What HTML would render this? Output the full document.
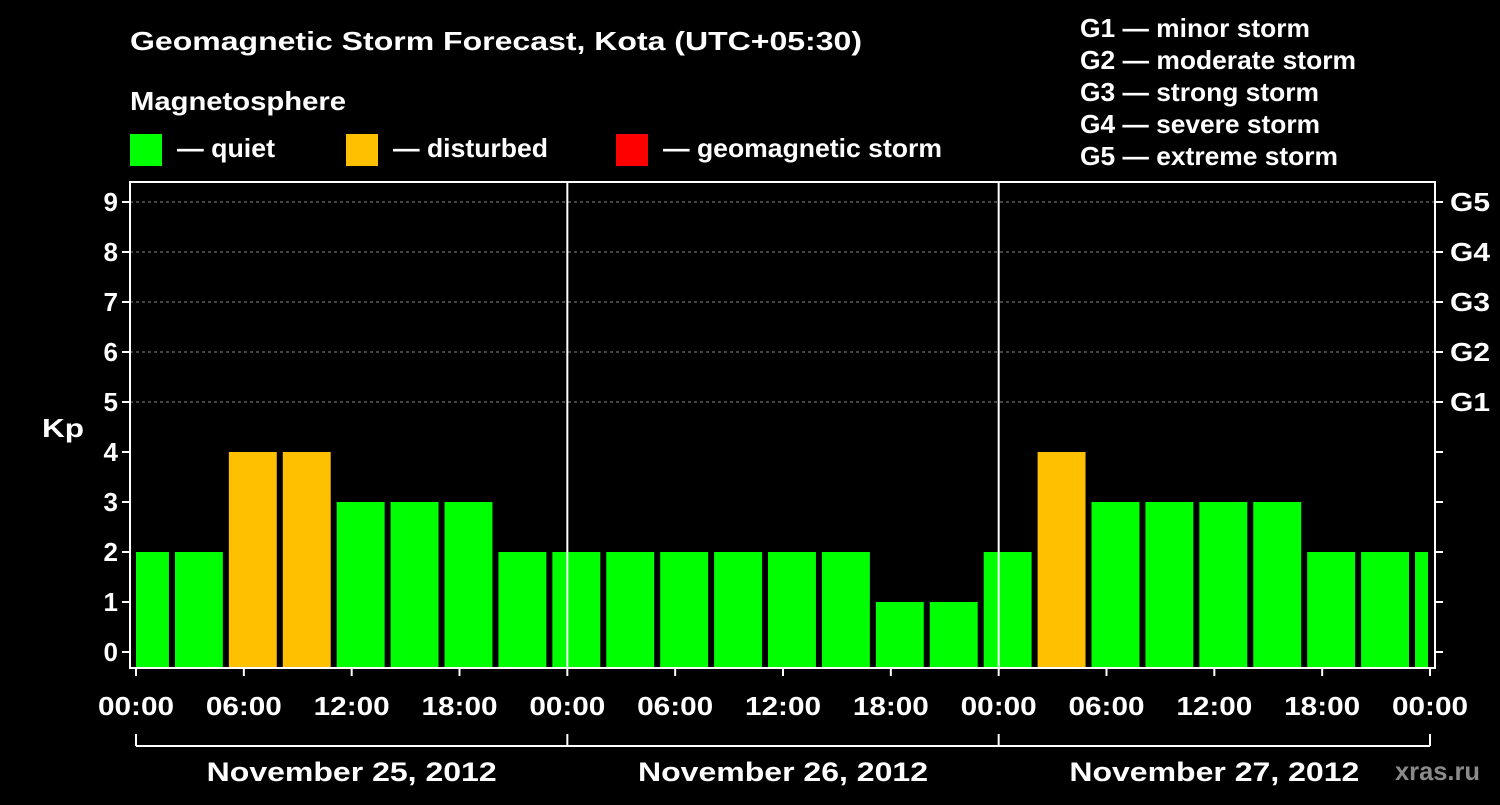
<!DOCTYPE html>
<html><head><meta charset="utf-8"><style>
body{margin:0;background:#000;}
svg text{font-family:"Liberation Sans",sans-serif;font-weight:bold;fill:#fff;}
</style></head><body>
<svg id="chart" width="1500" height="800" xmlns="http://www.w3.org/2000/svg">
<rect width="1500" height="800" fill="#000"/>
<text x="130" y="50" font-size="26" textLength="732" lengthAdjust="spacingAndGlyphs">Geomagnetic Storm Forecast, Kota (UTC+05:30)</text>
<text x="130" y="110" font-size="26" textLength="216" lengthAdjust="spacingAndGlyphs">Magnetosphere</text>
<g><rect x="130" y="134" width="32" height="32" fill="#00ff00"/><text x="177" y="157" font-size="26" textLength="98" lengthAdjust="spacingAndGlyphs">— quiet</text></g>
<g><rect x="346" y="134" width="32" height="32" fill="#ffc000"/><text x="393" y="157" font-size="26" textLength="155" lengthAdjust="spacingAndGlyphs">— disturbed</text></g>
<g><rect x="616" y="134" width="32" height="32" fill="#ff0000"/><text x="663" y="157" font-size="26" textLength="279" lengthAdjust="spacingAndGlyphs">— geomagnetic storm</text></g>
<g font-size="26">
<text x="1080" y="37" textLength="230" lengthAdjust="spacingAndGlyphs">G1 — minor storm</text>
<text x="1080" y="69" textLength="276" lengthAdjust="spacingAndGlyphs">G2 — moderate storm</text>
<text x="1080" y="101" textLength="239" lengthAdjust="spacingAndGlyphs">G3 — strong storm</text>
<text x="1080" y="133" textLength="240" lengthAdjust="spacingAndGlyphs">G4 — severe storm</text>
<text x="1080" y="165" textLength="258" lengthAdjust="spacingAndGlyphs">G5 — extreme storm</text>
</g>
<text x="42" y="437" font-size="26" textLength="42" lengthAdjust="spacingAndGlyphs">Kp</text>
<text x="1395" y="780" font-size="26" style="fill:#8a8a8a" textLength="85" lengthAdjust="spacingAndGlyphs">xras.ru</text>
<g id="grid"></g>
<g id="bars"></g>
<g id="axes"></g>
</svg>
<script>
const kpValues=[2,2,4,4,3,3,3,2,2,2,2,2,2,2,1,1,2,4,3,3,3,3,2,2,2];
const yTicks=[0,1,2,3,4,5,6,7,8,9];
const gLabels=['G1','G2','G3','G4','G5'];
const xTickLabels=['00:00','06:00','12:00','18:00','00:00','06:00','12:00','18:00','00:00','06:00','12:00','18:00','00:00'];
const dayLabels=['November 25, 2012','November 26, 2012','November 27, 2012'];
const NS='http://www.w3.org/2000/svg';
const x0=136,hourPx=(1430-136)/72,pLeft=130,pRight=1435,pTop=182,pBottom=668;
const xs=h=>x0+h*hourPx;
const ys=v=>652-50*v;
function mk(tag,attrs,parent,txt){const e=document.createElementNS(NS,tag);for(const k in attrs)e.setAttribute(k,attrs[k]);if(txt!==undefined)e.textContent=txt;parent.appendChild(e);return e;}
const grid=document.getElementById('grid'),bars=document.getElementById('bars'),axes=document.getElementById('axes');
yTicks.filter(v=>v>=5).forEach(v=>{const l=mk('line',{x1:pLeft,x2:pRight,y1:ys(v),y2:ys(v),stroke:'#888','stroke-dasharray':'3,3','stroke-width':1},grid);

});
kpValues.forEach((v,i)=>{let s=-1+3*i,e=s+3;let xa=xs(s)+3,xb=xs(e)-3;xa=Math.max(xa,x0);xb=Math.min(xb,1428);
const col=v>=5?'#ff0000':(v>=4?'#ffc000':'#00ff00');
const r=mk('rect',{x:xa,y:ys(v),width:xb-xa,height:pBottom-ys(v),fill:col},bars);

});
[24,48].forEach(h=>{const l=mk('line',{x1:xs(h),x2:xs(h),y1:pTop,y2:pBottom,stroke:'#fff','stroke-width':2},axes);

});
const f=mk('rect',{x:pLeft,y:pTop,width:pRight-pLeft,height:pBottom-pTop,fill:'none',stroke:'#fff','stroke-width':2},axes);


yTicks.forEach(v=>{mk('line',{x1:pLeft-8,x2:pLeft,y1:ys(v),y2:ys(v),stroke:'#fff','stroke-width':2},axes);
mk('line',{x1:pRight,x2:pRight+8,y1:ys(v),y2:ys(v),stroke:'#fff','stroke-width':2},axes);
const t=mk('text',{x:pLeft-12,y:ys(v)+9,'font-size':26,'text-anchor':'end'},axes,String(v));

});
gLabels.forEach((g,i)=>{const t=mk('text',{x:pRight+15,y:ys(5+i)+9,'font-size':26,textLength:40,lengthAdjust:'spacingAndGlyphs'},axes,g);

});
xTickLabels.forEach((lab,i)=>{const x=xs(i*6);mk('line',{x1:x,x2:x,y1:pBottom,y2:pBottom+8,stroke:'#fff','stroke-width':2},axes);
const t=mk('text',{x:x-38,y:715,'font-size':26,textLength:76,lengthAdjust:'spacingAndGlyphs'},axes,lab);

});
mk('line',{x1:xs(0),x2:xs(72),y1:746,y2:746,stroke:'#fff','stroke-width':2},axes);
[0,24,48,72].forEach(h=>mk('line',{x1:xs(h),x2:xs(h),y1:734,y2:746,stroke:'#fff','stroke-width':2},axes));
dayLabels.forEach((d,i)=>{const t=mk('text',{x:xs(12+24*i)-145,y:781,'font-size':27,textLength:290,lengthAdjust:'spacingAndGlyphs'},axes,d);

});
</script>
</body></html>
